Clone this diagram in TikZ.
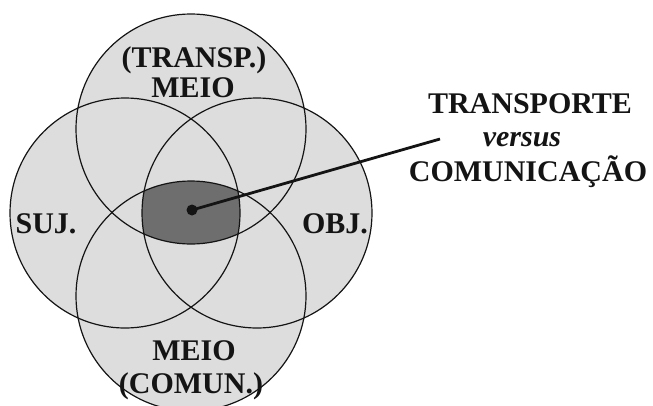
\documentclass[tikz,border=0pt]{standalone}
\usepackage{fontspec}
\setmainfont{Liberation Serif}
\definecolor{lightfill}{RGB}{221,221,221}
\definecolor{darkfill}{RGB}{110,110,110}
\definecolor{ink}{RGB}{20,20,20}
\tikzset{
  lbl/.style={font=\fontsize{30}{33}\selectfont\bfseries, text=ink, inner sep=0pt, anchor=base},
  ring/.style={draw=ink, line width=1.2pt},
}
\begin{document}
\begin{tikzpicture}[x=1pt, y=-1pt]
\useasboundingbox (0,0) rectangle (653,405);
\def\R{115}
\coordinate (ct) at (191,129);
\coordinate (cb) at (191,296);
\coordinate (cl) at (125,213);
\coordinate (cr) at (257,213);
\begin{scope}
\clip (0,0) rectangle (653,405);
\fill[lightfill] (ct) circle (\R) (cb) circle (\R) (cl) circle (\R) (cr) circle (\R);
\begin{scope}
\clip (ct) circle (\R);
\clip (cb) circle (\R);
\clip (cl) circle (\R);
\fill[darkfill] (cr) circle (\R);
\end{scope}
\draw[ring] (ct) circle (\R);
\draw[ring] (cb) circle (\R);
\draw[ring] (cl) circle (\R);
\draw[ring] (cr) circle (\R);
\end{scope}
\node[lbl] (transp) at (194,67) {(TRANSP.)};
\node[lbl] (meiotop) at (193,97) {MEIO};
\node[lbl] (suj) at (46,233) {SUJ.};
\node[lbl] (obj) at (335,233) {OBJ.};
\node[lbl] (meiobot) at (194,360) {MEIO};
\node[lbl] (comun) at (191,393) {(COMUN.)};
\node[lbl] (transporte) at (530,113) {TRANSPORTE};
\node[lbl, font=\fontsize{30}{33}\selectfont\bfseries\itshape] (versus) at (522,146) {versus};
\node[lbl] (comunicacao) at (528,181) {COMUNICAÇÃO};
\node[circle, fill=ink, inner sep=0pt, minimum size=11pt] (dot) at (192,210) {};
\coordinate (tip) at (440,139);
\draw[ink, line width=2.8pt] (dot.center) -- (tip);
\end{tikzpicture}
\end{document}
